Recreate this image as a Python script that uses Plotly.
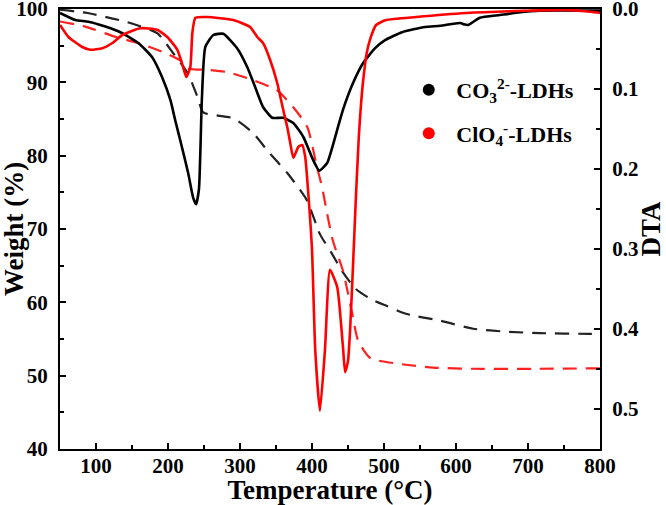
import plotly.graph_objects as go

# TG (weight %) curves - dashed, left axis
tg_co3_T = [50, 88, 143.5, 185, 207, 227, 241, 249, 290.7, 318, 338, 366, 393, 411, 427.7, 441.5, 460, 480.8, 504, 531.7, 578, 623.8, 670.5, 717, 786, 800]
tg_co3_W = [99.9, 99.45, 98.2, 96.7, 94.0, 91.3, 88.0, 85.9, 85.1, 83.1, 80.7, 77.6, 73.9, 69.3, 66.65, 64.3, 61.9, 60.5, 59.5, 58.4, 57.5, 56.4, 56.0, 55.8, 55.7, 55.7]

tg_clo4_T = [50, 85, 127, 158.8, 196, 220, 228, 256, 282, 318, 351.7, 374, 393.5, 407, 414, 421, 429, 443, 455.8, 464, 481, 522, 568, 623.8, 707, 800]
tg_clo4_W = [98.3, 97.6, 96.2, 95.35, 94.0, 92.8, 91.9, 91.7, 91.4, 90.3, 88.9, 86.6, 83.9, 78.4, 75.7, 72.1, 68.4, 64.3, 58.5, 54.8, 52.4, 51.6, 51.1, 50.94, 50.94, 51.0]

# DTA curves - solid, right axis (reversed)
dta_co3_T = [50, 71.4, 89.4, 113, 136, 158.8, 177.8, 191.7, 203.4, 210, 217, 228, 235, 239, 243, 247, 251.8, 263, 276.8, 296, 310, 321, 332, 344.8, 360, 374, 388, 401.7, 410, 421, 435, 443, 457, 471, 487.7, 501.5, 525, 557, 578, 605.7, 612, 617, 633, 661, 689, 717, 800]
dta_co3_D = [0.005, 0.0138, 0.0159, 0.022, 0.030, 0.0425, 0.060, 0.085, 0.114, 0.139, 0.164, 0.205, 0.236, 0.244, 0.225, 0.114, 0.0475, 0.0325, 0.031, 0.049, 0.0725, 0.0975, 0.1225, 0.136, 0.136, 0.1425, 0.16, 0.189, 0.202, 0.1925, 0.151, 0.126, 0.0925, 0.0675, 0.049, 0.039, 0.029, 0.0225, 0.021, 0.0175, 0.0195, 0.020, 0.011, 0.0075, 0.004, 0.002, 0.002]

dta_clo4_T = [50, 61.7, 81, 92, 109, 122.7, 136.6, 161.6, 185, 199, 213, 221, 225.5, 231, 233.8, 238, 254.6, 290.7, 314, 324, 332, 342, 351.7, 360, 365.6, 369.8, 374, 381, 386.4, 390.6, 394.8, 400, 404.5, 411, 418, 425, 435, 443, 446, 450, 453, 457, 461, 465, 468, 471, 476, 481, 489, 503, 544.6, 614, 683, 753, 790, 800]
dta_clo4_D = [0.02, 0.035, 0.0475, 0.051, 0.049, 0.0425, 0.0325, 0.024, 0.026, 0.035, 0.051, 0.0725, 0.085, 0.0725, 0.030, 0.011, 0.010, 0.0138, 0.0225, 0.035, 0.0425, 0.064, 0.0925, 0.126, 0.1475, 0.1675, 0.186, 0.1725, 0.17, 0.185, 0.23, 0.301, 0.426, 0.5025, 0.426, 0.326, 0.3475, 0.4225, 0.454, 0.44, 0.40, 0.32, 0.235, 0.16, 0.12, 0.09, 0.055, 0.037, 0.02, 0.0138, 0.010, 0.005, 0.0025, 0.00125, 0.00375, 0.005]

legend_names = ["CO<sub>3</sub><sup>2-</sup>-LDHs", "ClO<sub>4</sub><sup>-</sup>-LDHs"]
colors = ["#000000", "#ff0000"]

FONT = "Liberation Serif, Times New Roman, serif"

fig = go.Figure()

fig.add_trace(go.Scatter(x=tg_co3_T, y=tg_co3_W, mode="lines", yaxis="y",
                         line=dict(color="#222222", width=2.2, dash="14px,9px", shape="spline", smoothing=0.6),
                         showlegend=False))
fig.add_trace(go.Scatter(x=tg_clo4_T, y=tg_clo4_W, mode="lines", yaxis="y",
                         line=dict(color="#ff2020", width=2.2, dash="14px,9px", shape="spline", smoothing=0.6),
                         showlegend=False))
fig.add_trace(go.Scatter(x=dta_co3_T, y=dta_co3_D, mode="lines", yaxis="y2",
                         line=dict(color=colors[0], width=2.6, shape="spline", smoothing=0.5),
                         showlegend=False))
fig.add_trace(go.Scatter(x=dta_clo4_T, y=dta_clo4_D, mode="lines", yaxis="y2",
                         line=dict(color=colors[1], width=2.6, shape="spline", smoothing=0.5),
                         showlegend=False))

for i, (nm, c) in enumerate(zip(legend_names, colors)):
    fig.add_trace(go.Scatter(x=[None], y=[None], mode="markers", name=nm,
                             marker=dict(color=c, size=9, symbol="circle"),
                             legendgroup=f"g{i}", showlegend=True))

axis_common = dict(
    showline=True, linecolor="black", linewidth=2,
    ticks="inside", ticklen=6, tickwidth=2, tickcolor="black",
    showgrid=False, zeroline=False, automargin=False,
    ticklabeloverflow="allow",
    tickfont=dict(family=FONT, size=21, color="black", weight="bold"),
)

fig.update_layout(
    width=666, height=505,
    margin=dict(l=60, r=66, t=9, b=56),
    plot_bgcolor="white", paper_bgcolor="white",
    xaxis=dict(range=[50, 800], tick0=0, dtick=100, mirror=True,
               minor=dict(ticks="inside", ticklen=4, tickwidth=2, tickcolor="black", dtick=50, tick0=0),
               title=dict(text="Temperature (°C)", font=dict(family=FONT, size=27, color="black", weight="bold"), standoff=2),
               ticklabelstandoff=-3,
               **axis_common),
    yaxis=dict(range=[40, 100], tick0=0, dtick=10,
               minor=dict(ticks="inside", ticklen=4, tickwidth=2, tickcolor="black", dtick=5, tick0=0),
               ticklabelstandoff=6,
               **axis_common),
    yaxis2=dict(range=[0.55, 0], overlaying="y", side="right", tick0=0, dtick=0.1, tickformat=".1f",
                minor=dict(ticks="inside", ticklen=4, tickwidth=2, tickcolor="black", dtick=0.05, tick0=0),
                title=dict(text="DTA", font=dict(family=FONT, size=27, color="black", weight="bold"), standoff=7),
                ticklabelstandoff=6,
                **axis_common),
    legend=dict(x=0.632, y=0.864, xanchor="left", yanchor="top",
                font=dict(family=FONT, size=22, color="black", weight="bold"),
                bgcolor="rgba(0,0,0,0)", tracegroupgap=12, itemsizing="constant", itemwidth=45),
    annotations=[dict(text="Weight (%)", textangle=-90, xref="paper", yref="paper",
                      x=0, y=0.5, xanchor="center", yanchor="middle", xshift=-46, showarrow=False,
                      font=dict(family=FONT, size=27, color="black", weight="bold"))],
    showlegend=True,
)

fig.write_html("out.html", config={"displayModeBar": False},
               post_script="document.body.style.margin='0px';")
